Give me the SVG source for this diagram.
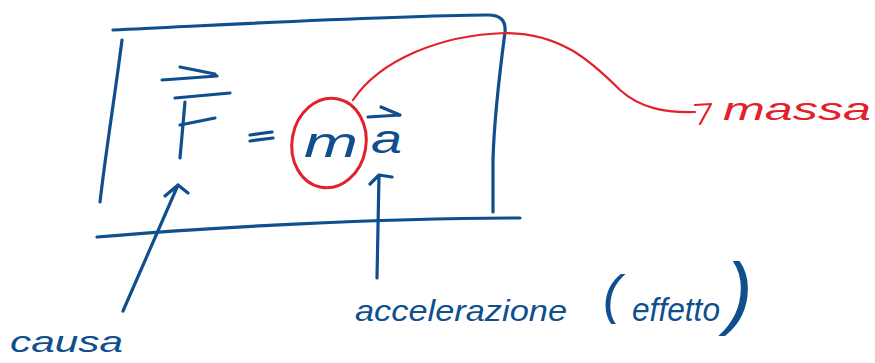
<svg xmlns="http://www.w3.org/2000/svg" width="875" height="363" viewBox="0 0 875 363">
<style>
.b{fill:none;stroke:#0f4f8e;stroke-width:3.2;stroke-linecap:round;stroke-linejoin:round}
.r{fill:none;stroke:#e3202b;stroke-width:2.2;stroke-linecap:round;stroke-linejoin:round}
.rc{fill:none;stroke:#e3202b;stroke-width:3;stroke-linecap:round}
.tb{fill:#0f4f8e;font-family:"Liberation Sans",Arial,sans-serif;font-style:italic}
.tr{fill:#e3202b;font-family:"Liberation Sans",Arial,sans-serif;font-style:italic}
</style>
<rect width="875" height="363" fill="#ffffff"/>
<g id="frame">
<path class="b" d="M113,30 C240,24 380,16 488,15 C500,15 506,20 505,32 C500,70 494,120 493,160 L493,212"/>
<path class="b" d="M122,40 C115,95 106,150 100,202"/>
<path class="b" d="M97,237 C200,228 380,218 520,218"/>
</g>
<g id="force">
<path class="b" d="M162,80 L217,76 M180,67 L215,74"/>
<path class="b" d="M185,102 L180,158 M175,98 L230,93 M180,125 L215,118"/>
</g>
<g id="equals">
<path class="b" d="M250,135 L272,132 M250,141 L273,138"/>
</g>
<g id="mass">
<text class="tb" x="304" y="157" font-size="42" font-weight="normal" textLength="54" lengthAdjust="spacingAndGlyphs">m</text>
<ellipse class="rc" cx="329" cy="143" rx="37" ry="45" transform="rotate(10 329 143)"/>
</g>
<g id="acceleration">
<text class="tb" x="371" y="153" font-size="40" textLength="31" lengthAdjust="spacingAndGlyphs">a</text>
<path class="b" d="M368,117 L400,115 M381,107 L400,115"/>
</g>
<g id="label-massa">
<text class="tr" x="723" y="120" font-size="32" textLength="148" lengthAdjust="spacingAndGlyphs">massa</text>
</g>
<g id="label-causa">
<text class="tb" x="10" y="352" font-size="30" textLength="113" lengthAdjust="spacingAndGlyphs">causa</text>
</g>
<g id="label-accelerazione">
<text class="tb" font-size="30"><tspan x="355" y="321" textLength="212" lengthAdjust="spacingAndGlyphs">accelerazione</tspan><tspan x="603" y="313" font-size="54">(</tspan><tspan x="632" y="321" font-size="34" textLength="88" lengthAdjust="spacingAndGlyphs">effetto</tspan><tspan x="726" y="319" font-size="80">)</tspan></text>
</g>
<g id="connectors">
<path class="r" d="M353,100 C380,60 440,35 505,33 C560,33 590,60 620,90 C640,108 665,113 695,112"/>
<path class="r" d="M695,105 L711,104 L700,124"/>
<path class="b" d="M123,311 L178,185 M165,196 L178,185 L188,193"/>
<path class="b" d="M377,278 L379,175 M370,184 L379,175 L392,177"/>
</g>
</svg>
